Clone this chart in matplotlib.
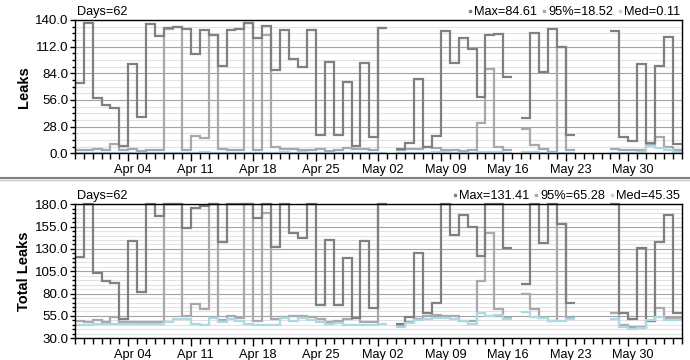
import matplotlib

matplotlib.use("Agg")

import matplotlib.pyplot as plt  # noqa: E402
import matplotlib.transforms as mtransforms  # noqa: E402
from matplotlib.lines import Line2D  # noqa: E402
import numpy as np  # noqa: E402

plt.rcParams["font.family"] = ["Liberation Sans", "DejaVu Sans"]

nan = np.nan

# One value per day, starting Mar 29 (day 0) ; nan = no data that day.
leaks_max = [
    74.2, 137.2, 58.5, 50.8, 47.3, 8.0, 93.4, 38.5, 135.5, 123.5,
    132.0, 133.0, 130.5, 104.0, 129.5, 124.0, 91.7, 129.5, 130.5, 137.0,
    120.8, 134.0, 87.5, 129.5, 99.4, 91.0, 129.5, 19.6, 96.3, 19.6,
    75.3, 8.0, 95.2, 17.5, 132.0, nan, 5.0, 10.5, 78.4, 7.0,
    18.5, 128.8, 95.2, 120.8, 110.0, 59.5, 124.0, 125.0, 80.5, nan,
    36.8, 126.7, 85.8, 131.0, 112.0, 19.3, nan, nan, nan, nan,
    128.8, 17.5, 13.3, 93.5, 10.5, 92.0, 122.5, 9.8,
]
leaks_p95 = [
    3.0, 3.0, 4.0, 3.0, 9.5, 3.0, 4.0, 2.0, 3.0, 3.0,
    131.0, 133.0, 3.5, 18.5, 16.5, 124.0, 5.0, 3.0, 3.0, 137.0,
    3.5, 124.0, 7.0, 5.0, 4.0, 3.0, 3.0, 5.0, 2.0, 3.0,
    6.0, 5.0, 4.0, 3.0, 132.0, nan, 3.5, 4.5, 4.5, 7.0,
    6.0, 3.5, 3.5, 2.0, 3.0, 32.0, 89.0, 7.0, 3.0, nan,
    25.0, 8.4, 4.9, 1.8, 112.0, 3.9, nan, nan, nan, nan,
    5.0, 3.0, 3.0, 3.5, 10.0, 17.5, 7.0, 3.5,
]
leaks_med = [
    0.6, 0.5, 0.6, 0.5, 0.8, 0.5, 0.6, 0.5, 0.6, 0.5,
    0.7, 0.8, 0.6, 0.5, 0.9, 0.7, 0.8, 0.7, 0.6, 0.5,
    0.4, 0.4, 0.5, 0.9, 0.7, 0.9, 0.8, 0.6, 0.5, 0.5,
    0.4, 0.4, 0.4, 0.4, 0.5, nan, 0.3, 0.5, 0.7, 0.8,
    0.9, 1.0, 0.8, 0.6, 0.5, 1.2, 1.0, 1.1, 0.8, nan,
    1.3, 0.9, 0.8, 0.6, 0.6, 0.7, nan, nan, nan, nan,
    0.8, 0.4, 0.3, 1.5, 8.0, 6.0, 3.0, 1.5,
]

total_max = [
    121.4, 180.0, 103.5, 94.6, 91.6, 51.6, 139.3, 82.2, 180.0, 167.3,
    180.0, 180.0, 153.0, 175.5, 178.5, 180.0, 138.2, 180.0, 180.0, 180.0,
    164.3, 180.0, 132.6, 180.0, 148.3, 142.0, 180.0, 67.3, 140.0, 67.3,
    120.3, 53.1, 139.3, 64.3, 180.0, nan, 46.0, 54.3, 125.9, 58.7,
    69.2, 180.0, 145.7, 168.0, 155.0, 122.5, 180.0, 180.0, 131.5, nan,
    90.4, 180.0, 136.3, 180.0, 157.6, 69.2, nan, nan, nan, nan,
    180.0, 58.0, 51.6, 131.5, 49.8, 138.2, 168.0, 58.7,
]
total_p95 = [
    49.4, 47.8, 50.1, 47.8, 54.3, 48.0, 47.8, 47.8, 48.6, 47.8,
    180.0, 180.0, 55.4, 68.0, 62.5, 180.0, 51.0, 55.0, 53.0, 180.0,
    49.8, 170.0, 51.7, 54.3, 55.4, 55.4, 53.6, 51.7, 48.0, 49.8,
    51.3, 52.4, 48.6, 48.6, 180.0, nan, 45.0, 48.0, 51.6, 55.3,
    56.0, 55.0, 55.0, 49.8, 49.4, 94.2, 148.3, 62.5, 52.4, nan,
    79.3, 62.5, 53.1, 49.8, 157.6, 54.3, nan, nan, nan, nan,
    58.0, 44.9, 43.0, 43.0, 49.8, 64.3, 52.4, 52.4,
]
total_med = [
    44.9, 44.9, 45.6, 45.6, 45.9, 45.9, 45.9, 45.9, 45.6, 45.6,
    47.8, 51.3, 51.3, 45.9, 44.9, 52.4, 47.8, 51.3, 49.8, 46.0,
    44.9, 44.9, 44.9, 52.4, 49.8, 52.4, 50.5, 48.6, 45.6, 46.7,
    44.9, 44.9, 44.9, 44.9, 45.9, nan, 43.0, 46.7, 50.5, 51.6,
    52.4, 53.0, 51.6, 49.4, 45.9, 57.9, 55.3, 56.0, 51.6, nan,
    59.7, 54.1, 53.0, 49.8, 49.8, 51.3, nan, nan, nan, nan,
    51.6, 43.0, 40.4, 41.9, 50.5, 53.5, 50.5, 50.0,
]

# Weekly labels (Mondays), first one is day 6 after Mar 29.
week_labels = ["Apr 04", "Apr 11", "Apr 18", "Apr 25", "May 02",
               "May 09", "May 16", "May 23", "May 30"]
n_days_axis = 68  # Mar 29 .. Jun 05

leaks_stats = ["Max=84.61", "95%=18.52", "Med=0.11"]
total_stats = ["Max=131.41", "95%=65.28", "Med=45.35"]
days_text = "Days=62"

COLORS = ["#808080", "#a9a9a9", "#add8e6"]
ZORDERS = [2.1, 2.0, 2.2]  # Max drawn over 95%
FS = 9.2


def draw_panel(ax, series, yticks, yminor_step, ylabel, stats):
    edges = np.arange(len(series[0]) + 1)
    for vals, color, z in zip(series, COLORS, ZORDERS):
        ax.stairs(np.asarray(vals, dtype=float), edges, baseline=None,
                  fill=False, color=color, linewidth=1.6, clip_on=False,
                  zorder=z)

    ymin, ymax = yticks[0], yticks[-1]
    ax.set_xlim(0, n_days_axis)
    ax.set_ylim(ymin, ymax)
    ax.set_yticks(yticks, labels=[f"{v:.1f}" for v in yticks])
    ax.set_yticks(np.arange(ymin, ymax + 0.01, yminor_step), minor=True)
    ax.grid(axis="y", which="major", color="#a3a3a3", linewidth=0.8)
    ax.grid(axis="y", which="minor", color="#e2e2e2", linewidth=0.8)
    ax.set_axisbelow(True)

    week_pos = [6 + 7 * i for i in range(len(week_labels))]
    ax.set_xticks(week_pos, labels=week_labels)
    ax.set_xticks(np.arange(0, n_days_axis + 1), minor=True)
    ax.tick_params(axis="x", which="major", length=6, width=1, pad=1.5,
                   labelsize=FS)
    ax.tick_params(axis="x", which="minor", length=4.5, width=1)
    ax.tick_params(axis="y", which="major", length=3.6, width=1, pad=1,
                   labelsize=FS + 0.4)
    ax.tick_params(axis="y", which="minor", length=2, width=1)
    # day labels sit at noon of the day
    shift = mtransforms.ScaledTranslation(0.045, 0, ax.figure.dpi_scale_trans)
    for lab in ax.get_xticklabels():
        lab.set_transform(lab.get_transform() + shift)

    for sp in ax.spines.values():
        sp.set_color("black")
        sp.set_linewidth(1.0)

    ax.set_ylabel(ylabel, fontsize=10.5, fontweight="bold")
    ax.yaxis.set_label_coords(-0.072, 0.5)

    ax.text(0.003, 1.015, days_text, transform=ax.transAxes, fontsize=FS,
            ha="left", va="bottom")

    handles = [Line2D([], [], color=c, marker="s", linestyle="none",
                      markersize=1.8) for c in COLORS]
    ax.legend(handles, stats, loc="lower right", bbox_to_anchor=(1.0, 1.0),
              ncol=3, frameon=False, fontsize=FS, handlelength=0.4,
              handletextpad=0.1, columnspacing=0.35, borderpad=0,
              borderaxespad=0.15)


fig = plt.figure(figsize=(6.9, 3.6), dpi=100)
ax_top = fig.add_axes([0.1083, 0.5742, 0.880, 0.3703])
ax_bot = fig.add_axes([0.1083, 0.0603, 0.880, 0.3722])

draw_panel(ax_top, [leaks_max, leaks_p95, leaks_med],
           [0, 28, 56, 84, 112, 140], 7, "Leaks", leaks_stats)
draw_panel(ax_bot, [total_max, total_p95, total_med],
           [30, 55, 80, 105, 130, 155, 180], 5, "Total Leaks", total_stats)

# separator between the two panels
fig.add_artist(Line2D([0, 1], [1 - 177.5 / 360] * 2, transform=fig.transFigure,
                      color="#808080", linewidth=1.5))
fig.add_artist(Line2D([0, 1], [1 - 179.8 / 360] * 2, transform=fig.transFigure,
                      color="#c8c8c8", linewidth=1.0))

fig.savefig("out.png", dpi=100)
plt.close(fig)
